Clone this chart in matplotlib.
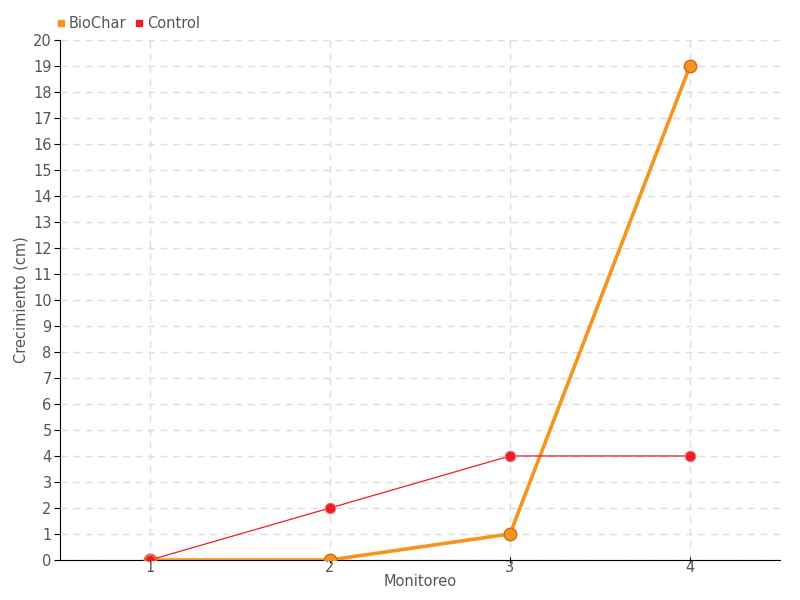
import matplotlib.pyplot as plt
from matplotlib.lines import Line2D

monitoreo = [1, 2, 3, 4]
biochar = [0, 0, 1, 19]
control = [0, 2, 4, 4]

plt.rcParams['font.family'] = ['DejaVu Sans']

fig = plt.figure(figsize=(8, 6), dpi=100)
ax = fig.add_axes([0.075, 0.0667, 0.9, 0.8667])

ax.plot(monitoreo, biochar, color='#f7941d', linewidth=2.6, marker='o', markersize=9,
        markerfacecolor='#f7941d', markeredgecolor='#c8701a', markeredgewidth=1, label='BioChar', zorder=3)
ax.plot(monitoreo, control, color='#ee1c25', linewidth=0.9, marker='o', markersize=7.5,
        markerfacecolor='#ee1c25', markeredgecolor='#f07070', markeredgewidth=0.8, label='Control', zorder=4)

ax.set_xlim(0.5, 4.5)
ax.set_ylim(0, 20)
ax.set_xticks(monitoreo)
ax.set_yticks(range(0, 21))
ax.grid(True, color='#dddddd', linestyle=(0, (5, 4)), linewidth=1)
ax.set_axisbelow(True)

for s in ['top', 'right']:
    ax.spines[s].set_visible(False)
ax.tick_params(axis='y', length=4, labelsize=10.5, colors='#555555', pad=2)
ax.tick_params(axis='x', length=4, direction='inout', labelsize=10.5, colors='#555555', pad=-2)
ax.tick_params(axis='both', color='black')

ax.set_xlabel('Monitoreo', fontsize=10.5, color='#555555', labelpad=-1)
ax.set_ylabel('Crecimiento (cm)', fontsize=10.5, color='#555555')
ax.yaxis.set_label_coords(-0.044, 0.5)

h = [Line2D([], [], marker='s', linestyle='none', color='#f7941d', markersize=5),
     Line2D([], [], marker='s', linestyle='none', color='#ee1c25', markersize=5)]
fig.legend(h, ['BioChar', 'Control'], loc='upper left', bbox_to_anchor=(0.053, 0.995), ncol=2,
           frameon=False, fontsize=10.5, handletextpad=0.1, columnspacing=0.5, handlelength=0.8,
           labelcolor='#555555')

plt.savefig('out.png', dpi=100)
